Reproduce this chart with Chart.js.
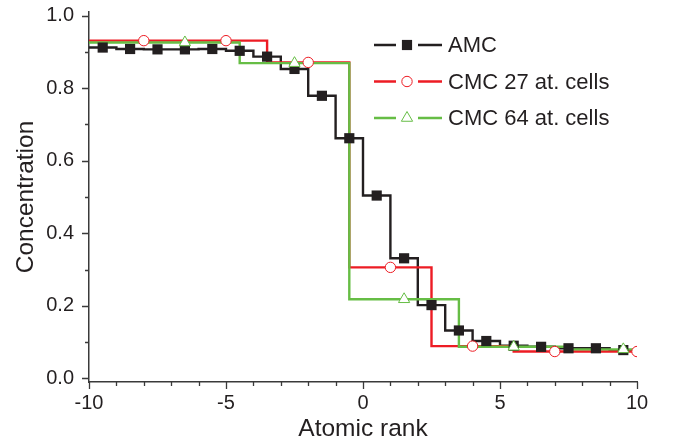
<!DOCTYPE html>
<html>
<head>
<meta charset="utf-8">
<script src="https://cdn.jsdelivr.net/npm/chart.js@4/dist/chart.umd.min.js"></script>
<style>
  html, body { margin: 0; padding: 0; background: #fff; }
  #wrap { width: 678px; height: 444px; }
</style>
</head>
<body>
<div id="wrap"><canvas id="profile" width="678" height="444"></canvas></div>
<script>
// concentration profiles across the interface, one value per cell
const seriesNames = ['AMC', 'CMC 27 at. cells', 'CMC 64 at. cells'];

const amcRank = [-9.5, -8.5, -7.5, -6.5, -5.5, -4.5, -3.5, -2.5, -1.5, -0.5, 0.5, 1.5, 2.5, 3.5, 4.5, 5.5, 6.5, 7.5, 8.5, 9.5];
const amcConc = [0.912, 0.908, 0.907, 0.907, 0.908, 0.903, 0.887, 0.853, 0.779, 0.662, 0.504, 0.331, 0.202, 0.132, 0.103, 0.090, 0.087, 0.083, 0.083, 0.078];
const amcWidth = 1;

const cmc27Rank = [-11, -8, -5, -2, 1, 4, 7, 10];
const cmc27Conc = [0.931, 0.931, 0.931, 0.871, 0.306, 0.089, 0.074, 0.074];
const cmc27Width = 3;

const cmc64Rank = [-10.5, -6.5, -2.5, 1.5, 5.5, 9.5];
const cmc64Conc = [0.926, 0.926, 0.869, 0.218, 0.087, 0.080];
const cmc64Width = 4;

const rankTicks = [-10, -5, 0, 5, 10];
const concTicks = [0, 0.2, 0.4, 0.6, 0.8, 1.0];

const BLACK = '#231f20', RED = '#ed1c24', GREEN = '#66bd45', AXIS = '#3a3a3a';
const FONT = "'Liberation Sans', Arial, Helvetica, sans-serif";

// each cell is a flat segment of the given width centred on its rank
function stepPoints(ranks, values, width) {
  const pts = [];
  ranks.forEach((r, i) => {
    pts.push({ x: r - width / 2, y: values[i] }, { x: r + width / 2, y: values[i] });
  });
  return pts;
}
function markerPoints(ranks, values) {
  return ranks.map((r, i) => ({ x: r, y: values[i] }));
}

const styles = [
  { color: BLACK, pointStyle: 'rect', radius: 7.2, fill: BLACK, bw: 0 },
  { color: RED, pointStyle: 'circle', radius: 5.2, fill: '#fff', bw: 1 },
  { color: GREEN, pointStyle: 'triangle', radius: 6.5, fill: '#fff', bw: 1 }
];

function lineSet(pts, st, order) {
  return { data: pts, borderColor: st.color, borderWidth: 2.4, pointRadius: 0, tension: 0, fill: false, order: order };
}
function markerSet(pts, st, order) {
  return {
    data: pts, showLine: false, pointStyle: st.pointStyle, pointRadius: st.radius,
    pointBackgroundColor: st.fill, pointBorderColor: st.color, pointBorderWidth: st.bw, order: order
  };
}

// minor and major tick marks on both axes
const tickMarks = {
  id: 'tickMarks',
  afterDraw(chart) {
    const { ctx, chartArea: a } = chart;
    const x = chart.scales.x, y = chart.scales.y;
    ctx.save();
    ctx.strokeStyle = AXIS;
    ctx.lineWidth = 1.3;
    ctx.beginPath();
    for (let v = -10; v <= 10; v++) {
      const px = Math.round(x.getPixelForValue(v)) + 0.5;
      const len = v % 5 === 0 ? 7 : 4;
      ctx.moveTo(px, a.bottom);
      ctx.lineTo(px, a.bottom + len);
    }
    for (let i = 0; i <= 10; i++) {
      const py = Math.round(y.getPixelForValue(i / 10)) + 0.5;
      const len = i % 2 === 0 ? 7 : 4;
      ctx.moveTo(a.left, py);
      ctx.lineTo(a.left - len, py);
    }
    ctx.stroke();
    ctx.restore();
  }
};

// legend: line - marker - line, then the label
const stepLegend = {
  id: 'stepLegend',
  afterDraw(chart) {
    const ctx = chart.ctx;
    const x0 = 374, x1 = 396, x2 = 418, x3 = 442, xm = 407, xt = 448;
    ctx.save();
    seriesNames.forEach((name, i) => {
      const st = styles[i];
      const yy = 45 + i * 36.5;
      ctx.strokeStyle = st.color;
      ctx.lineWidth = 2.4;
      ctx.beginPath();
      ctx.moveTo(x0, yy); ctx.lineTo(x1, yy);
      ctx.moveTo(x2, yy); ctx.lineTo(x3, yy);
      ctx.stroke();
      ctx.fillStyle = st.fill;
      ctx.lineWidth = st.bw;
      Chart.helpers.drawPoint(ctx, { pointStyle: st.pointStyle, radius: st.radius, rotation: 0, borderWidth: st.bw }, xm, yy);
      ctx.fillStyle = BLACK;
      ctx.font = '22px ' + FONT;
      ctx.textBaseline = 'middle';
      ctx.textAlign = 'left';
      ctx.fillText(name, xt, yy + 1);
    });
    ctx.restore();
  }
};

// keep the plot frame fixed: no extra room reserved for half-labels
function noPad(s) {
  s.paddingTop = 0; s.paddingBottom = 0; s.paddingLeft = 0; s.paddingRight = 0;
}

new Chart(document.getElementById('profile').getContext('2d'), {
  type: 'line',
  data: {
    datasets: [
      lineSet(stepPoints(amcRank, amcConc, amcWidth), styles[0], 6),
      lineSet(stepPoints(cmc27Rank, cmc27Conc, cmc27Width), styles[1], 5),
      lineSet(stepPoints(cmc64Rank, cmc64Conc, cmc64Width), styles[2], 4),
      markerSet(markerPoints(amcRank, amcConc), styles[0], 3),
      markerSet(markerPoints(cmc27Rank, cmc27Conc), styles[1], 2),
      markerSet(markerPoints(cmc64Rank, cmc64Conc), styles[2], 1)
    ]
  },
  options: {
    responsive: false,
    animation: false,
    layout: { padding: { top: 12, right: 41, left: 0, bottom: 0 } },
    plugins: { legend: { display: false }, tooltip: { enabled: false } },
    scales: {
      x: {
        type: 'linear', min: -10, max: 10,
        afterBuildTicks: s => { s.ticks = rankTicks.map(v => ({ value: v })); },
        afterFit: s => { s.height = 62; noPad(s); },
        grid: { display: false, drawTicks: false },
        border: { display: true, color: AXIS, width: 1.5 },
        ticks: { color: BLACK, font: { family: FONT, size: 20 }, padding: 9, maxRotation: 0, autoSkip: false },
        title: { display: true, text: 'Atomic rank', color: BLACK, font: { family: FONT, size: 24.5 }, padding: { top: 0, bottom: 0 } }
      },
      y: {
        type: 'linear', min: -0.01, max: 1.01,
        afterBuildTicks: s => { s.ticks = concTicks.map(v => ({ value: v })); },
        afterFit: s => { s.width = 89; noPad(s); },
        grid: { display: false, drawTicks: false },
        border: { display: true, color: AXIS, width: 1.5 },
        ticks: { color: BLACK, font: { family: FONT, size: 20 }, padding: 15, autoSkip: false, callback: v => v.toFixed(1) },
        title: { display: true, text: 'Concentration', color: BLACK, font: { family: FONT, size: 24.5 }, padding: { top: 12, bottom: 0 } }
      }
    }
  },
  plugins: [tickMarks, stepLegend]
});
</script>
</body>
</html>
